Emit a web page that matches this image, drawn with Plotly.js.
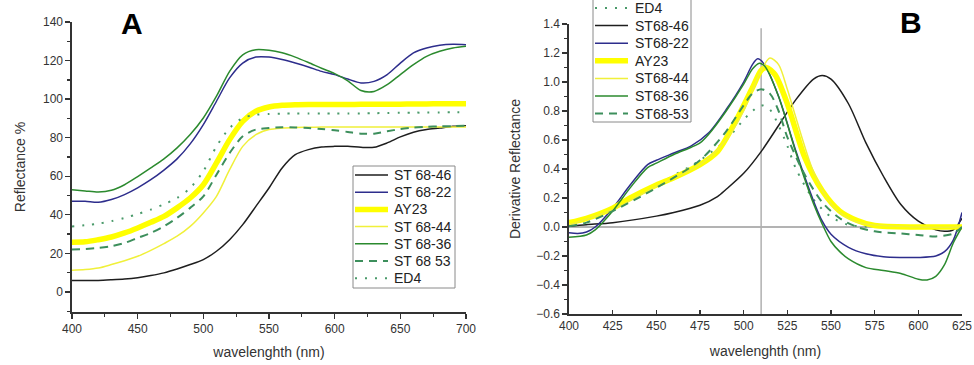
<!DOCTYPE html>
<html>
<head>
<meta charset="utf-8">
<script src="https://cdn.plot.ly/plotly-3.0.1.min.js"></script>
<style>
  html, body { margin: 0; padding: 0; background: #fff; }
  #chart { width: 974px; height: 365px; }
</style>
</head>
<body>
<div id="chart"></div>
<script>
// ---- Panel A: reflectance spectra (%), 400-700 nm ----
const wlA = [400,410,420,430,440,450,460,470,480,490,500,510,520,530,540,550,560,570,580,590,600,610,620,630,640,650,660,670,680,690,700];
const reflST6846 = [5.9,6.0,6.0,6.3,6.7,7.4,8.5,9.9,11.9,14.2,16.8,21.1,27.1,34.9,44.4,53.9,64.3,71.2,73.8,75.2,75.5,75.5,75.0,75.0,77.3,80.4,82.8,84.2,85.0,85.9,86.2];
const reflST6822 = [47.0,47.0,46.5,47.9,50.5,54.0,58.2,63.2,69.0,76.8,86.8,98.9,111.0,118.7,121.8,121.8,120.5,118.7,116.7,114.4,112.7,110.4,108.4,109.2,112.7,118.7,124.0,126.5,127.9,128.4,128.2];
const reflAY23   = [25.8,26.0,27.1,28.5,30.6,33.2,36.1,39.2,43.6,48.7,55.6,66.9,79.0,88.5,93.7,95.9,96.8,97.1,97.2,97.2,97.2,97.2,97.3,97.3,97.4,97.4,97.5,97.5,97.6,97.6,97.6];
const reflST6844 = [11.2,11.6,12.4,14.2,16.2,18.5,21.6,25.1,28.9,34.0,41.0,49.6,63.4,75.5,81.6,84.2,85.0,85.3,85.4,85.5,85.5,85.5,85.5,85.5,85.5,85.5,85.5,85.5,85.5,85.5,85.5];
const reflST6836 = [53.0,52.4,51.8,52.7,55.6,59.8,64.3,69.0,74.7,81.6,90.2,101.5,114.4,123.0,125.6,125.3,124.0,121.8,119.0,116.0,113.2,109.5,104.5,104.0,107.5,112.7,117.9,122.2,124.8,126.5,127.4];
const reflST6853 = [22.0,22.3,22.8,23.7,25.4,28.0,30.6,34.0,38.4,43.6,49.6,60.8,72.0,80.7,84.2,85.0,85.4,85.3,85.0,84.5,83.8,83.0,82.1,82.1,83.3,84.5,85.2,85.6,85.9,86.0,86.2];
const reflED4    = [34.0,34.6,35.4,36.7,38.4,40.4,42.7,45.5,48.7,53.9,62.6,75.5,85.0,90.2,91.9,92.3,92.5,92.5,92.5,92.5,92.5,92.6,92.6,92.7,92.8,92.9,93.0,93.0,93.1,93.2,93.2];
const namesA = ['ST 68-46','ST 68-22','AY23','ST 68-44','ST 68-36','ST 68 53','ED4'];

// ---- Panel B: first-derivative spectra, 400-625 nm ----
const wlB_ED4 = [400,425,450,475,490,500,505,510,515,520,525,530,540,550,560,575,600,625];
const derED4  = [0.01,0.13,0.29,0.46,0.6,0.74,0.8,0.84,0.81,0.7,0.56,0.4,0.19,0.07,0.015,0.0,0.0,0.0];
const wlB_46  = [400,410,425,450,460,475,485,490,500,510,520,530,540,545,550,560,570,580,590,600,610,615,620,625];
const der46   = [0.005,0.016,0.03,0.075,0.1,0.15,0.21,0.26,0.37,0.52,0.7,0.88,1.02,1.045,1.02,0.85,0.58,0.35,0.155,0.04,-0.02,-0.03,-0.02,0.06];
const wlB_22  = [400,405,410,415,425,435,445,450,460,470,480,490,500,505,508,512,520,530,540,545,550,560,570,580,590,600,610,615,620,625];
const der22   = [-0.04,-0.045,-0.035,0.0,0.13,0.29,0.43,0.46,0.51,0.56,0.65,0.81,1.0,1.12,1.16,1.12,0.9,0.52,0.18,0.04,-0.05,-0.14,-0.185,-0.205,-0.21,-0.21,-0.2,-0.17,-0.09,0.1];
const wlB_AY  = [400,410,425,435,450,460,475,485,495,505,510,513,518,525,535,545,555,565,575,600,625];
const derAY   = [0.03,0.06,0.13,0.2,0.29,0.34,0.43,0.52,0.72,0.96,1.08,1.1,1.05,0.85,0.48,0.25,0.11,0.045,0.01,0.0,0.0];
const wlB_44  = [400,425,450,475,490,500,510,515,520,525,530,540,550,560,570,600,625];
const der44   = [0.015,0.12,0.28,0.43,0.6,0.8,1.08,1.165,1.12,0.95,0.75,0.38,0.16,0.06,0.02,0.0,0.0];
const wlB_36  = [400,410,415,425,435,445,450,460,470,475,480,490,500,505,509,512,520,530,540,545,550,555,560,570,580,590,600,605,610,615,620,625];
const der36   = [-0.07,-0.055,-0.02,0.11,0.27,0.41,0.44,0.5,0.55,0.58,0.64,0.8,0.985,1.09,1.13,1.11,0.9,0.51,0.16,0.02,-0.1,-0.17,-0.22,-0.28,-0.3,-0.32,-0.36,-0.365,-0.34,-0.26,-0.11,0.0];
const wlB_53  = [400,410,425,450,475,490,500,505,510,515,520,525,535,545,555,565,575,590,600,610,620,625];
const der53   = [0.005,0.03,0.11,0.27,0.46,0.66,0.84,0.92,0.95,0.92,0.8,0.62,0.36,0.17,0.06,0.0,-0.03,-0.045,-0.055,-0.065,-0.045,0.0];
const namesB = ['ED4','ST68-46','ST68-22','AY23','ST68-44','ST68-36','ST68-53'];

// Peak reference wavelength marked in panel B
const refWavelength = 510;

// Line styles per sample
const sty = {
  black:  {color: '#1e1e1e', width: 1.5},
  blue:   {color: '#2d2d8c', width: 1.5},
  ay23:   {color: '#ffff00', width: 5.5},
  yellow: {color: '#f0f03a', width: 1.5},
  green:  {color: '#2b8a2e', width: 1.5},
  dashed: {color: '#3d8f5c', width: 2, dash: '8px,6px'},
  dotted: {color: '#4a9a6a', width: 2, dash: '2px,8px'}
};
const styA = [sty.black, sty.blue, sty.ay23, sty.yellow, sty.green, sty.dashed, sty.dotted];
const styB = [sty.dotted, sty.black, sty.blue, sty.ay23, sty.yellow, sty.green, sty.dashed];

function line(x, y, name, s, ax) {
  return {
    x: x, y: y, name: name, type: 'scatter', mode: 'lines',
    xaxis: ax[0], yaxis: ax[1], showlegend: false,
    line: Object.assign({shape: 'spline', smoothing: 0.8}, s)
  };
}

const A = ['x', 'y'], B = ['x2', 'y2'];
const seriesA = [reflST6846, reflST6822, reflAY23, reflST6844, reflST6836, reflST6853, reflED4];
const seriesB = [[wlB_ED4, derED4], [wlB_46, der46], [wlB_22, der22], [wlB_AY, derAY],
                 [wlB_44, der44], [wlB_36, der36], [wlB_53, der53]];
const traces = [];
seriesA.forEach((ys, i) => traces.push(line(wlA, ys, namesA[i], styA[i], A)));
seriesB.forEach((s, i) => traces.push(line(s[0], s[1], namesB[i], styB[i], B)));

const FONT = 'Liberation Sans, Arial, sans-serif';
const W = 974, H = 365;
const px = v => v / W, py = v => 1 - v / H;

const axisCommon = {
  showgrid: false, zeroline: false, showline: true,
  linecolor: '#333', linewidth: 1.6,
  ticks: 'outside', ticklen: 5, tickwidth: 1.3, tickcolor: '#333',
  tickfont: {family: FONT, size: 12, color: '#333'},
  title: {font: {family: FONT, size: 14, color: '#333'}}
};
function ax(extra) {
  const o = JSON.parse(JSON.stringify(axisCommon));
  for (const k in extra) {
    if (k === 'title') Object.assign(o.title, extra.title);
    else o[k] = extra[k];
  }
  return o;
}

// Boxed legends: frame, line swatch and label per entry (pixel layout)
const shapes = [
  {type: 'line', xref: 'x2', yref: 'y2', x0: 400, x1: 625, y0: 0, y1: 0,
   line: {color: '#9a9a9a', width: 1.5}, layer: 'below'},
  {type: 'line', xref: 'x2', yref: 'y2', x0: refWavelength, x1: refWavelength, y0: -0.6, y1: 1.37,
   line: {color: '#b0b0b0', width: 1.5}, layer: 'below'}
];
const annotations = [
  {text: '<b>A</b>', xref: 'paper', yref: 'paper', x: px(132), y: py(24), xanchor: 'center', yanchor: 'middle',
   showarrow: false, font: {family: FONT, size: 30, color: '#000'}},
  {text: '<b>B</b>', xref: 'paper', yref: 'paper', x: px(911), y: py(23), xanchor: 'center', yanchor: 'middle',
   showarrow: false, font: {family: FONT, size: 30, color: '#000'}}
];
function addLegend(box, names, styles, swatch, textX, firstY, step) {
  shapes.push({type: 'rect', xref: 'paper', yref: 'paper',
    x0: px(box[0]), x1: px(box[2]), y0: py(box[1]), y1: py(box[3]),
    line: {color: '#8a8a8a', width: 1}, fillcolor: '#fff', layer: 'above'});
  names.forEach((name, i) => {
    const yy = firstY + i * step;
    shapes.push({type: 'line', xref: 'paper', yref: 'paper',
      x0: px(swatch[0]), x1: px(swatch[1]), y0: py(yy), y1: py(yy),
      line: Object.assign({}, styles[i]), layer: 'above'});
    annotations.push({text: name, xref: 'paper', yref: 'paper', x: px(textX), y: py(yy),
      xanchor: 'left', yanchor: 'middle', showarrow: false,
      font: {family: FONT, size: 14, color: '#222'}});
  });
}
addLegend([353, 166, 455, 288], namesA, styA, [355, 388], 392, 175, 17.2);
addLegend([593, -2, 691, 122], namesB, styB, [595, 628], 633, 8, 17.6);

const layout = {
  width: W, height: H,
  margin: {l: 0, r: 0, t: 0, b: 0},
  paper_bgcolor: '#fff', plot_bgcolor: '#fff',
  showlegend: false,
  xaxis: ax({domain: [px(72), px(466)], range: [400, 700], dtick: 50, anchor: 'y',
    minor: {dtick: 25, ticklen: 3, tickcolor: '#333', ticks: 'outside'},
    title: {text: 'wavelenghth (nm)', standoff: 12}}),
  yaxis: ax({domain: [py(312), py(22)], range: [-10.4, 140], dtick: 20, tick0: 0, anchor: 'x',
    minor: {dtick: 10, ticklen: 3, tickcolor: '#333', ticks: 'outside'},
    title: {text: 'Reflectance %', standoff: 14}}),
  xaxis2: ax({domain: [px(569), px(962)], range: [400, 625], dtick: 25, anchor: 'y2',
    ticks: 'inside', ticklen: 4,
    title: {text: 'wavelenghth (nm)', standoff: 14}}),
  yaxis2: ax({domain: [py(314), py(24)], range: [-0.6, 1.4], dtick: 0.2, tick0: 0,
    tickformat: '.1f', anchor: 'x2',
    minor: {dtick: 0.1, ticklen: 3, tickcolor: '#333', ticks: 'outside'},
    title: {text: 'Derivative Reflectance', standoff: 12}}),
  shapes: shapes,
  annotations: annotations
};

Plotly.newPlot('chart', traces, layout, {displayModeBar: false, staticPlot: true});
</script>
</body>
</html>
